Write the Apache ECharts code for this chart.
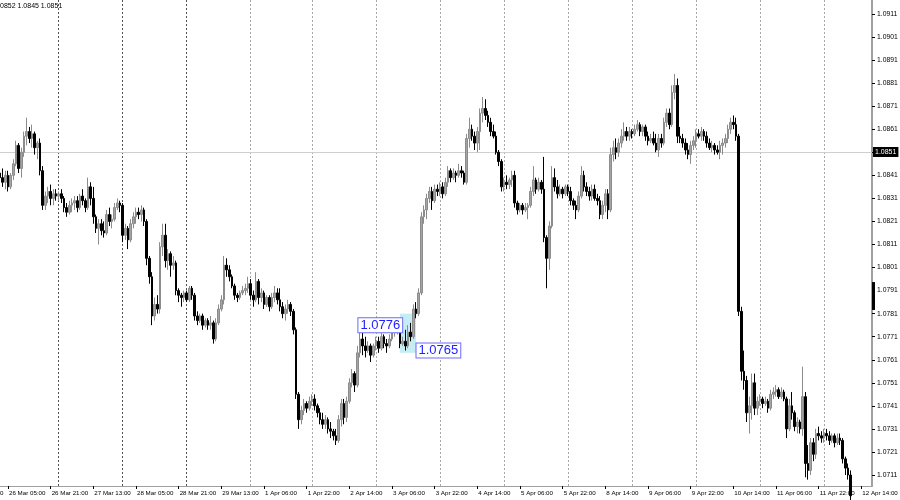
<!DOCTYPE html>
<html><head><meta charset="utf-8">
<script src="https://cdn.jsdelivr.net/npm/echarts@6/dist/echarts.min.js"></script>
<style>html,body{margin:0;padding:0;background:#fff}#c{width:900px;height:500px}</style>
</head><body><div id="c"></div>
<script>
// trading days: [label, first hour, last hour] (1 Apr starts at 01:00; 12 Apr extends into empty right margin)
const tradingDays = [['26 Mar',2,23],['27 Mar',0,23],['28 Mar',0,23],['29 Mar',0,23],['1 Apr',1,23],['2 Apr',0,23],['3 Apr',0,23],['4 Apr',0,23],['5 Apr',0,23],['8 Apr',0,23],['9 Apr',0,23],['10 Apr',0,23],['11 Apr',0,23],['12 Apr',0,18]];
const yTicks = [1.0711,1.0721,1.0731,1.0741,1.0751,1.0761,1.0771,1.0781,1.0791,1.0801,1.0811,1.0821,1.0831,1.0841,1.0851,1.0861,1.0871,1.0881,1.0891,1.0901,1.0911];
const currentPrice = 1.0851;
const headerText = '0852 1.0845 1.0851';
const leftPriceLabel = 1.0776, rightPriceLabel = 1.0765;
const axisMarkRange = [1.07947, 1.07826];

const opens = [
1.0842,1.0840,1.0838,1.0841,1.0836,1.0841,1.0846,1.0854,1.0844,1.0851,1.0858,1.0860,1.0857,1.0859,1.0853,1.0855,1.0843,1.0828,1.0832,1.0834,1.0831,1.0833,
1.0832,1.0833,1.0831,1.0827,1.0825,1.0828,1.0829,1.0830,1.0827,1.0832,1.0830,1.0827,1.0836,1.0831,1.0823,1.0818,1.0820,1.0817,1.0816,1.0824,1.0821,1.0822,1.0827,1.0829,
1.0828,1.0815,1.0818,1.0813,1.0820,1.0823,1.0825,1.0824,1.0826,1.0821,1.0805,1.0797,1.0780,1.0785,1.0783,1.0810,1.0815,1.0804,1.0807,1.0802,1.0803,1.0791,1.0789,1.0788,
1.0790,1.0787,1.0792,1.0789,1.0780,1.0778,1.0780,1.0776,1.0778,1.0776,1.0777,1.0770,1.0777,1.0783,1.0787,1.0802,1.0800,1.0797,1.0793,1.0789,1.0788,1.0790,1.0791,1.0792,
1.0794,1.0789,1.0787,1.0795,1.0788,1.0790,1.0785,1.0788,1.0784,1.0788,1.0790,1.0787,1.0784,1.0781,1.0783,1.0785,1.0782,1.0774,1.0746,1.0735,1.0739,1.0742,1.0740,
1.0743,1.0744,1.0741,1.0738,1.0735,1.0733,1.0735,1.0731,1.0730,1.0728,1.0726,1.0735,1.0742,1.0736,1.0743,1.0751,1.0755,1.0750,1.0764,1.0770,1.0767,1.0765,1.0767,1.0763,
1.0767,1.0769,1.0766,1.0771,1.0768,1.0767,1.0770,1.0773,1.0774,1.0775,1.0768,1.0769,1.0767,1.0773,1.0771,1.0783,1.0781,1.0790,1.0823,1.0826,1.0831,1.0834,1.0830,1.0835,
1.0834,1.0836,1.0833,1.0838,1.0843,1.0840,1.0842,1.0841,1.0843,1.0842,1.0838,1.0857,1.0861,1.0858,1.0855,1.0860,1.0868,1.0870,1.0867,1.0864,1.0860,1.0858,1.0851,1.0847,
1.0836,1.0838,1.0837,1.0839,1.0841,1.0829,1.0826,1.0828,1.0826,1.0827,1.0828,1.0834,1.0839,1.0835,1.0838,1.0835,1.0814,1.0805,1.0819,1.0840,1.0836,1.0833,1.0835,1.0833,
1.0836,1.0834,1.0830,1.0828,1.0826,1.0832,1.0841,1.0836,1.0834,1.0832,1.0835,1.0831,1.0830,1.0824,1.0828,1.0833,1.0826,1.0850,1.0853,1.0851,1.0855,1.0858,1.0860,1.0858,
1.0860,1.0859,1.0861,1.0863,1.0860,1.0862,1.0858,1.0856,1.0857,1.0855,1.0852,1.0857,1.0855,1.0864,1.0868,1.0863,1.0877,1.0880,1.0858,1.0857,1.0855,1.0852,1.0850,1.0854,
1.0856,1.0859,1.0858,1.0860,1.0858,1.0855,1.0853,1.0854,1.0852,1.0851,1.0854,1.0855,1.0857,1.0861,1.0864,1.0863,1.0858,1.0782,1.0756,1.0752,1.0738,1.0741,1.0751,1.0740,
1.0743,1.0744,1.0742,1.0743,1.0740,1.0746,1.0747,1.0748,1.0745,1.0747,1.0744,1.0731,1.0741,1.0738,1.0732,1.0734,1.0731,1.0745,1.0716,1.0713,1.0725,1.0720,1.0729,1.0728,
1.0727,1.0729,1.0728,1.0726,1.0728,1.0725,1.0727,1.0726,1.0718,1.0714,1.0711];
const highs = [
1.0845,1.0844,1.0843,1.0843,1.0842,1.0848,1.0856,1.0855,1.0853,1.0860,1.0866,1.0862,1.0863,1.0860,1.0856,1.0857,1.0845,1.0834,1.0836,1.0837,1.0835,1.0835,
1.0834,1.0835,1.0832,1.0829,1.0830,1.0831,1.0832,1.0832,1.0833,1.0835,1.0831,1.0840,1.0838,1.0836,1.0824,1.0822,1.0822,1.0821,1.0826,1.0827,1.0824,1.0829,1.0831,1.0830,
1.0829,1.0820,1.0819,1.0822,1.0825,1.0827,1.0827,1.0828,1.0827,1.0822,1.0806,1.0799,1.0788,1.0789,1.0812,1.0820,1.0820,1.0809,1.0808,1.0806,1.0804,1.0792,1.0790,1.0791,
1.0791,1.0793,1.0793,1.0790,1.0782,1.0781,1.0781,1.0779,1.0779,1.0780,1.0778,1.0779,1.0785,1.0789,1.0806,1.0805,1.0802,1.0798,1.0794,1.0790,1.0791,1.0793,1.0794,1.0797,
1.0796,1.0791,1.0799,1.0796,1.0792,1.0791,1.0789,1.0789,1.0790,1.0793,1.0792,1.0792,1.0786,1.0785,1.0787,1.0786,1.0783,1.0775,1.0747,1.0741,1.0744,1.0743,1.0745,
1.0746,1.0746,1.0742,1.0740,1.0738,1.0737,1.0736,1.0734,1.0731,1.0731,1.0737,1.0744,1.0744,1.0745,1.0753,1.0757,1.0756,1.0767,1.0773,1.0779,1.0771,1.0769,1.0768,1.0768,
1.0771,1.0771,1.0773,1.0772,1.0770,1.0772,1.0775,1.0776,1.0776,1.0776,1.0771,1.0774,1.0776,1.0777,1.0785,1.0786,1.0792,1.0825,1.0828,1.0833,1.0836,1.0836,1.0837,1.0837,
1.0838,1.0838,1.0840,1.0845,1.0844,1.0844,1.0843,1.0846,1.0845,1.0843,1.0859,1.0866,1.0863,1.0860,1.0862,1.0870,1.0875,1.0874,1.0869,1.0866,1.0863,1.0860,1.0852,1.0848,
1.0840,1.0841,1.0840,1.0843,1.0843,1.0830,1.0829,1.0829,1.0829,1.0829,1.0836,1.0845,1.0840,1.0840,1.0839,1.0849,1.0815,1.0821,1.0845,1.0844,1.0839,1.0837,1.0836,1.0837,
1.0837,1.0836,1.0831,1.0830,1.0834,1.0845,1.0843,1.0838,1.0836,1.0837,1.0837,1.0833,1.0832,1.0830,1.0835,1.0835,1.0853,1.0856,1.0857,1.0857,1.0861,1.0864,1.0862,1.0862,
1.0861,1.0863,1.0865,1.0864,1.0863,1.0863,1.0860,1.0859,1.0860,1.0859,1.0859,1.0859,1.0866,1.0870,1.0870,1.0880,1.0885,1.0883,1.0862,1.0859,1.0857,1.0855,1.0856,1.0858,
1.0861,1.0861,1.0862,1.0861,1.0860,1.0857,1.0856,1.0855,1.0854,1.0856,1.0857,1.0859,1.0863,1.0866,1.0867,1.0866,1.0859,1.0784,1.0765,1.0754,1.0745,1.0755,1.0755,1.0745,
1.0746,1.0745,1.0745,1.0744,1.0748,1.0749,1.0750,1.0749,1.0749,1.0748,1.0745,1.0744,1.0747,1.0739,1.0736,1.0735,1.0758,1.0747,1.0724,1.0727,1.0727,1.0731,1.0732,1.0730,
1.0731,1.0731,1.0730,1.0729,1.0729,1.0729,1.0729,1.0727,1.0719,1.0716,1.0713];
const lows = [
1.0838,1.0836,1.0835,1.0834,1.0835,1.0839,1.0845,1.0842,1.0840,1.0849,1.0854,1.0855,1.0853,1.0850,1.0848,1.0841,1.0826,1.0826,1.0829,1.0828,1.0828,1.0830,
1.0830,1.0829,1.0825,1.0823,1.0824,1.0825,1.0826,1.0825,1.0826,1.0828,1.0825,1.0826,1.0828,1.0820,1.0816,1.0811,1.0815,1.0814,1.0815,1.0819,1.0818,1.0821,1.0826,1.0825,
1.0812,1.0813,1.0809,1.0812,1.0818,1.0820,1.0822,1.0821,1.0819,1.0802,1.0794,1.0776,1.0778,1.0781,1.0781,1.0806,1.0801,1.0800,1.0797,1.0800,1.0789,1.0786,1.0784,1.0786,
1.0786,1.0786,1.0787,1.0778,1.0776,1.0777,1.0774,1.0775,1.0774,1.0774,1.0768,1.0769,1.0776,1.0782,1.0785,1.0797,1.0795,1.0792,1.0787,1.0786,1.0787,1.0789,1.0789,1.0790,
1.0787,1.0784,1.0786,1.0785,1.0786,1.0783,1.0784,1.0782,1.0783,1.0786,1.0785,1.0782,1.0779,1.0778,1.0781,1.0780,1.0772,1.0744,1.0731,1.0733,1.0737,1.0738,1.0739,
1.0741,1.0739,1.0736,1.0733,1.0731,1.0731,1.0729,1.0727,1.0726,1.0724,1.0725,1.0732,1.0733,1.0734,1.0742,1.0749,1.0747,1.0749,1.0762,1.0763,1.0762,1.0764,1.0760,1.0762,
1.0765,1.0764,1.0765,1.0766,1.0764,1.0766,1.0769,1.0771,1.0772,1.0766,1.0767,1.0765,1.0766,1.0769,1.0770,1.0779,1.0780,1.0789,1.0820,1.0822,1.0829,1.0826,1.0829,1.0832,
1.0832,1.0831,1.0832,1.0836,1.0838,1.0839,1.0838,1.0840,1.0840,1.0837,1.0837,1.0853,1.0856,1.0852,1.0851,1.0852,1.0864,1.0865,1.0862,1.0858,1.0857,1.0850,1.0845,1.0834,
1.0834,1.0835,1.0835,1.0836,1.0827,1.0824,1.0825,1.0824,1.0825,1.0822,1.0827,1.0832,1.0833,1.0834,1.0833,1.0812,1.0792,1.0800,1.0818,1.0834,1.0831,1.0832,1.0831,1.0832,
1.0832,1.0828,1.0826,1.0822,1.0825,1.0831,1.0834,1.0832,1.0830,1.0830,1.0830,1.0828,1.0822,1.0822,1.0825,1.0822,1.0825,1.0847,1.0848,1.0849,1.0853,1.0856,1.0856,1.0856,
1.0857,1.0858,1.0860,1.0858,1.0858,1.0856,1.0854,1.0855,1.0854,1.0851,1.0849,1.0853,1.0854,1.0862,1.0861,1.0862,1.0874,1.0855,1.0855,1.0853,1.0850,1.0848,1.0846,1.0852,
1.0853,1.0857,1.0856,1.0856,1.0853,1.0852,1.0851,1.0850,1.0850,1.0848,1.0850,1.0853,1.0855,1.0859,1.0861,1.0856,1.0780,1.0752,1.0748,1.0734,1.0729,1.0735,1.0737,1.0737,
1.0741,1.0740,1.0741,1.0738,1.0739,1.0744,1.0745,1.0744,1.0744,1.0743,1.0727,1.0730,1.0735,1.0730,1.0729,1.0729,1.0728,1.0710,1.0709,1.0711,1.0717,1.0718,1.0726,1.0725,
1.0725,1.0726,1.0724,1.0725,1.0723,1.0724,1.0724,1.0716,1.0711,1.0709,1.0700];
const closes = [
1.0840,1.0838,1.0841,1.0836,1.0841,1.0846,1.0854,1.0844,1.0851,1.0858,1.0860,1.0857,1.0859,1.0853,1.0855,1.0843,1.0828,1.0832,1.0834,1.0831,1.0833,1.0832,
1.0833,1.0831,1.0827,1.0825,1.0828,1.0829,1.0830,1.0827,1.0832,1.0830,1.0827,1.0836,1.0831,1.0823,1.0818,1.0820,1.0817,1.0816,1.0824,1.0821,1.0822,1.0827,1.0829,1.0828,
1.0815,1.0818,1.0813,1.0820,1.0823,1.0825,1.0824,1.0826,1.0821,1.0805,1.0797,1.0780,1.0785,1.0783,1.0810,1.0815,1.0804,1.0807,1.0802,1.0803,1.0791,1.0789,1.0788,1.0790,
1.0787,1.0792,1.0789,1.0780,1.0778,1.0780,1.0776,1.0778,1.0776,1.0777,1.0770,1.0777,1.0783,1.0787,1.0802,1.0800,1.0797,1.0793,1.0789,1.0788,1.0790,1.0791,1.0792,1.0794,
1.0789,1.0787,1.0795,1.0788,1.0790,1.0785,1.0788,1.0784,1.0788,1.0790,1.0787,1.0784,1.0781,1.0783,1.0785,1.0782,1.0774,1.0746,1.0735,1.0739,1.0742,1.0740,1.0743,
1.0744,1.0741,1.0738,1.0735,1.0733,1.0735,1.0731,1.0730,1.0728,1.0726,1.0735,1.0742,1.0736,1.0743,1.0751,1.0755,1.0750,1.0764,1.0770,1.0767,1.0765,1.0767,1.0763,1.0767,
1.0769,1.0766,1.0771,1.0768,1.0767,1.0770,1.0773,1.0774,1.0775,1.0768,1.0769,1.0767,1.0773,1.0771,1.0783,1.0781,1.0790,1.0823,1.0826,1.0831,1.0834,1.0830,1.0835,1.0834,
1.0836,1.0833,1.0838,1.0843,1.0840,1.0842,1.0841,1.0843,1.0842,1.0838,1.0857,1.0861,1.0858,1.0855,1.0860,1.0868,1.0870,1.0867,1.0864,1.0860,1.0858,1.0851,1.0847,1.0836,
1.0838,1.0837,1.0839,1.0841,1.0829,1.0826,1.0828,1.0826,1.0827,1.0828,1.0834,1.0839,1.0835,1.0838,1.0835,1.0814,1.0805,1.0819,1.0840,1.0836,1.0833,1.0835,1.0833,1.0836,
1.0834,1.0830,1.0828,1.0826,1.0832,1.0841,1.0836,1.0834,1.0832,1.0835,1.0831,1.0830,1.0824,1.0828,1.0833,1.0826,1.0850,1.0853,1.0851,1.0855,1.0858,1.0860,1.0858,1.0860,
1.0859,1.0861,1.0863,1.0860,1.0862,1.0858,1.0856,1.0857,1.0855,1.0852,1.0857,1.0855,1.0864,1.0868,1.0863,1.0877,1.0880,1.0858,1.0857,1.0855,1.0852,1.0850,1.0854,1.0856,
1.0859,1.0858,1.0860,1.0858,1.0855,1.0853,1.0854,1.0852,1.0851,1.0854,1.0855,1.0857,1.0861,1.0864,1.0863,1.0858,1.0782,1.0756,1.0752,1.0738,1.0741,1.0751,1.0740,1.0743,
1.0744,1.0742,1.0743,1.0740,1.0746,1.0747,1.0748,1.0745,1.0747,1.0744,1.0731,1.0741,1.0738,1.0732,1.0734,1.0731,1.0745,1.0716,1.0713,1.0725,1.0720,1.0729,1.0728,1.0727,
1.0729,1.0728,1.0726,1.0728,1.0725,1.0727,1.0726,1.0718,1.0714,1.0711,1.0702];

// build category labels and day-start indices
const categories = [];
const dayStarts = new Set();
tradingDays.forEach(function (d, di) {
  if (di > 0) dayStarts.add(categories.length);
  for (let h = d[1]; h <= d[2]; h++) categories.push(d[0] + ' ' + (h < 10 ? '0' : '') + h + ':00');
});
const ohlc = opens.map(function (o, i) { return [o, closes[i], lows[i], highs[i]]; });
const labelEvery = 16, labelOffset = 3;
const showLabel = function (i) { return i >= labelOffset && (i - labelOffset) % labelEvery === 0; };
const fontFam = 'Liberation Sans, Arial, sans-serif';
// separator colours: the first three day separators look darker in the reference
const sepColors = ['#505050','#505050','#505050','#a6a6a6','#a6a6a6','#a6a6a6','#a6a6a6','#a6a6a6','#a6a6a6','#a6a6a6','#a6a6a6','#a6a6a6','#a6a6a6'];

const chart = echarts.init(document.getElementById('c'), null, {renderer: 'canvas'});
chart.setOption({
  animation: false,
  backgroundColor: '#ffffff',
  grid: {left: 0, right: 28, top: 0, bottom: 14, containLabel: false, outerBoundsMode: 'none'},
  xAxis: {
    type: 'category', data: categories, boundaryGap: false,
    axisLine: {show: true, lineStyle: {color: '#a0a0a0', width: 1}},
    axisTick: {show: true, interval: showLabel, length: 3, lineStyle: {color: '#000'}},
    axisLabel: {interval: showLabel, align: 'left', margin: 4, padding: [0, 0, 0, 1], fontSize: 6.2, color: '#000', fontFamily: fontFam, hideOverlap: false},
    splitLine: {show: true, interval: function (i) { return dayStarts.has(i); }, lineStyle: {color: sepColors, width: 1, type: [2, 2]}}
  },
  yAxis: {
    type: 'value', position: 'right', min: 1.070623, max: 1.091707, scale: true,
    axisLine: {show: true, lineStyle: {color: '#a0a0a0', width: 2}},
    axisTick: {show: true, customValues: yTicks, length: 3, lineStyle: {color: '#000'}},
    axisLabel: {customValues: yTicks, formatter: function (v) { return v.toFixed(4); }, margin: 5, fontSize: 6.8, color: '#000', fontFamily: fontFam},
    splitLine: {show: false}
  },
  series: [{
    type: 'candlestick', data: ohlc, barWidth: 2, clip: true,
    itemStyle: {color: '#a4a4a4', borderColor: '#8c8c8c', color0: '#000000', borderColor0: '#000000', borderWidth: 1},
    markArea: {
      silent: true,
      itemStyle: {color: '#c6edf3'},
      data: [[{coord: [150, 1.0781]}, {coord: [156, 1.0764]}]]
    },
    markPoint: {
      silent: true, symbol: 'circle', symbolSize: 1, itemStyle: {color: 'rgba(0,0,0,0)'},
      data: [
        {coord: [151, leftPriceLabel], label: {show: true, position: 'left', distance: 0, formatter: leftPriceLabel.toFixed(4), color: '#1e1eff', fontSize: 13, fontFamily: fontFam, backgroundColor: '#fff', borderColor: '#6a6aff', borderWidth: 1, padding: [1, 2, 0, 2]}},
        {coord: [156, rightPriceLabel], label: {show: true, position: 'right', distance: 0, formatter: rightPriceLabel.toFixed(4), color: '#1e1eff', fontSize: 13, fontFamily: fontFam, backgroundColor: '#fff', borderColor: '#6a6aff', borderWidth: 1, padding: [1, 2, 0, 2]}}
      ]
    }
  }]
});

// decorations tied to the axes through the library's own scales
const yCur = chart.convertToPixel({yAxisIndex: 0}, currentPrice);
const yA = chart.convertToPixel({yAxisIndex: 0}, axisMarkRange[0]);
const yB = chart.convertToPixel({yAxisIndex: 0}, axisMarkRange[1]);
const xLeft = chart.convertToPixel({xAxisIndex: 0}, 0);
const xRight = chart.convertToPixel({xAxisIndex: 0}, categories.length - 1);
chart.setOption({
  graphic: [
    {type: 'line', z: 1, silent: true, shape: {x1: xLeft, y1: Math.round(yCur) + 0.5, x2: xRight, y2: Math.round(yCur) + 0.5}, style: {stroke: '#cfcfcf', lineWidth: 1}},
    {type: 'text', z: 10, silent: true, x: xRight + 1, y: Math.round(yCur), style: {text: currentPrice.toFixed(4), fontSize: 7, fill: '#fff', fontFamily: fontFam, backgroundColor: '#000', padding: [2, 2, 1, 2], verticalAlign: 'middle', align: 'left'}},
    {type: 'text', silent: true, left: 0, top: 3, style: {text: headerText, fontSize: 7, fill: '#000', fontFamily: fontFam}},
    {type: 'text', silent: true, left: 0, top: 490, style: {text: '0', fontSize: 6.2, fill: '#000', fontFamily: fontFam}},
    {type: 'rect', z: 10, silent: true, shape: {x: xRight, y: yA, width: 3, height: yB - yA}, style: {fill: '#000'}}
  ]
});
</script>
</body></html>
